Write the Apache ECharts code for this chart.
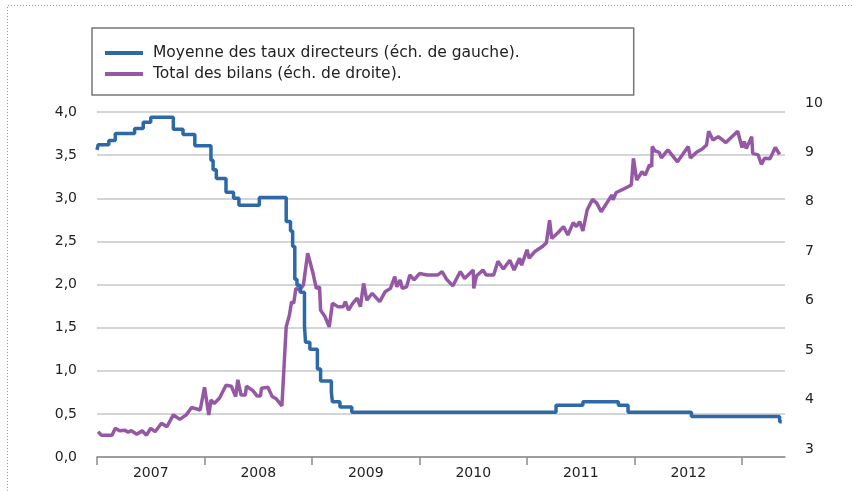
<!DOCTYPE html>
<html>
<head>
<meta charset="utf-8">
<script src="https://cdn.jsdelivr.net/npm/echarts@6/dist/echarts.min.js"></script>
<style>
  html, body { margin: 0; padding: 0; background: #fff; }
  #chart { width: 852px; height: 491px; }
</style>
</head>
<body>
<div id="chart"></div>
<script>
// années (axe des abscisses)
const yearLabels = [2007, 2008, 2009, 2010, 2011, 2012]
const yearTicks = [2007, 2008, 2009, 2010, 2011, 2012, 2013]

// Moyenne des taux directeurs (éch. de gauche) - escalier
const rateDates = [2007.00, 2007.01, 2007.11, 2007.17, 2007.35, 2007.43, 2007.50, 2007.71, 2007.80, 2007.91,
  2008.06, 2008.08, 2008.11, 2008.20, 2008.27, 2008.32, 2008.51, 2008.76, 2008.80, 2008.82,
  2008.84, 2008.86, 2008.89, 2008.93, 2008.94, 2008.98, 2009.05, 2009.08, 2009.18, 2009.19,
  2009.26, 2009.37, 2011.27, 2011.52, 2011.85, 2011.94, 2012.53, 2013.35, 2013.37]
const rateValues = [3.56, 3.62, 3.67, 3.75, 3.81, 3.88, 3.94, 3.80, 3.74, 3.61,
  3.44, 3.33, 3.23, 3.07, 3.00, 2.92, 3.01, 2.73, 2.62, 2.44,
  2.06, 1.99, 1.91, 1.52, 1.33, 1.25, 1.02, 0.88, 0.75, 0.64,
  0.58, 0.52, 0.60, 0.64, 0.60, 0.52, 0.47, 0.41, 0.41]

// Total des bilans (éch. de droite)
const bilanDates = [2007.01, 2007.04, 2007.14, 2007.17, 2007.21, 2007.26, 2007.29, 2007.32, 2007.37, 2007.42,
  2007.46, 2007.50, 2007.54, 2007.60, 2007.65, 2007.71, 2007.77, 2007.83, 2007.88, 2007.96,
  2008.00, 2008.04, 2008.06, 2008.09, 2008.14, 2008.20, 2008.25, 2008.29, 2008.31, 2008.34,
  2008.38, 2008.39, 2008.45, 2008.49, 2008.52, 2008.53, 2008.59, 2008.63, 2008.67, 2008.72,
  2008.76, 2008.79, 2008.81, 2008.83, 2008.85, 2008.89, 2008.92, 2008.96, 2009.01, 2009.04,
  2009.07, 2009.08, 2009.12, 2009.16, 2009.19, 2009.24, 2009.29, 2009.31, 2009.34, 2009.38,
  2009.42, 2009.45, 2009.48, 2009.51, 2009.56, 2009.63, 2009.68, 2009.73, 2009.77, 2009.79,
  2009.82, 2009.84, 2009.88, 2009.91, 2009.95, 2010.00, 2010.07, 2010.17, 2010.21, 2010.25,
  2010.31, 2010.38, 2010.42, 2010.50, 2010.505, 2010.53, 2010.59, 2010.62, 2010.69, 2010.73,
  2010.78, 2010.84, 2010.88, 2010.93, 2010.95, 2011.00, 2011.02, 2011.07, 2011.14, 2011.18,
  2011.21, 2011.23, 2011.29, 2011.34, 2011.38, 2011.43, 2011.46, 2011.49, 2011.52, 2011.56,
  2011.61, 2011.65, 2011.69, 2011.74, 2011.79, 2011.80, 2011.83, 2011.90, 2011.97, 2011.99,
  2012.02, 2012.07, 2012.10, 2012.14, 2012.16, 2012.165, 2012.19, 2012.23, 2012.25, 2012.31,
  2012.40, 2012.50, 2012.52, 2012.58, 2012.63, 2012.67, 2012.69, 2012.73, 2012.78, 2012.85,
  2012.96, 2013.00, 2013.02, 2013.04, 2013.09, 2013.10, 2013.15, 2013.18, 2013.21, 2013.26,
  2013.31, 2013.35]
const bilanValues = [3.35, 3.28, 3.28, 3.42, 3.37, 3.38, 3.34, 3.37, 3.30, 3.37,
  3.28, 3.42, 3.35, 3.52, 3.45, 3.69, 3.60, 3.69, 3.84, 3.79,
  4.25, 3.69, 3.99, 3.92, 4.03, 4.29, 4.27, 4.06, 4.40, 4.09,
  4.09, 4.27, 4.18, 4.07, 4.07, 4.23, 4.25, 4.06, 4.01, 3.87,
  5.47, 5.71, 5.98, 5.95, 6.25, 6.22, 6.32, 6.96, 6.55, 6.25,
  6.28, 5.81, 5.68, 5.47, 5.95, 5.88, 5.88, 5.98, 5.81, 5.95,
  6.05, 5.88, 6.35, 6.01, 6.15, 5.98, 6.18, 6.25, 6.49, 6.28,
  6.42, 6.25, 6.28, 6.52, 6.42, 6.55, 6.52, 6.52, 6.59, 6.44,
  6.30, 6.59, 6.45, 6.62, 6.25, 6.50, 6.62, 6.52, 6.52, 6.80,
  6.64, 6.82, 6.62, 6.86, 6.72, 7.03, 6.86, 6.99, 7.09, 7.17,
  7.63, 7.26, 7.38, 7.50, 7.33, 7.58, 7.50, 7.60, 7.41, 7.84,
  8.05, 7.97, 7.80, 7.97, 8.14, 8.04, 8.19, 8.26, 8.34, 8.88,
  8.44, 8.61, 8.54, 8.75, 8.71, 9.12, 9.03, 9.00, 8.89, 9.05,
  8.81, 9.12, 8.89, 9.01, 9.07, 9.15, 9.43, 9.25, 9.32, 9.20,
  9.43, 9.10, 9.22, 9.08, 9.32, 8.98, 8.95, 8.76, 8.88, 8.87,
  9.10, 8.96]

const blue = '#2d69a6'
const purple = '#9558a5'
const textColor = '#222'
const font = "'DejaVu Sans', 'Liberation Sans', sans-serif"

const chart = echarts.init(document.getElementById('chart'))

const option = {
  backgroundColor: '#fff',
  animation: false,
  textStyle: { fontFamily: font, color: textColor },
  // cadre pointillé
  graphic: [{
    type: 'polyline',
    shape: { points: [[7.5, 491], [7.5, 5.5], [852, 5.5]] },
    style: { stroke: '#9a9a9a', lineWidth: 1, lineDash: [1, 2], fill: null }
  }],
  legend: {
    left: 92,
    top: 28,
    orient: 'vertical',
    padding: [17, 114, 13, 13],
    itemGap: 5,
    itemWidth: 38,
    itemHeight: 4,
    icon: 'rect',
    borderColor: '#777',
    borderWidth: 1.5,
    textStyle: { fontSize: 15.5, color: textColor, fontFamily: font, padding: [0, 0, 0, 5] },
    data: ['Moyenne des taux directeurs (éch. de gauche).', 'Total des bilans (éch. de droite).']
  },
  grid: [
    { left: 97, right: 67, top: 112, bottom: 34 },
    { left: 97, right: 67, top: 103, bottom: 42 }
  ],
  xAxis: [
    {
      gridIndex: 0,
      type: 'value',
      min: 2007,
      max: 2013.4,
      axisLine: { show: true, lineStyle: { color: '#8c8c8c', width: 1.5 } },
      axisTick: { show: true, length: 8, customValues: yearTicks, lineStyle: { color: '#8c8c8c', width: 1.5 } },
      axisLabel: {
        customValues: yearLabels.map(y => y + 0.5),
        formatter: v => String(Math.floor(v)),
        fontSize: 14,
        color: textColor,
        margin: 9
      },
      splitLine: { show: false }
    },
    { gridIndex: 1, type: 'value', min: 2007, max: 2013.4, show: false }
  ],
  yAxis: [
    {
      gridIndex: 0,
      type: 'value',
      min: 0,
      max: 4,
      interval: 0.5,
      axisLine: { show: false },
      axisTick: { show: false },
      axisLabel: {
        formatter: v => v.toFixed(1).replace('.', ','),
        fontSize: 14,
        color: textColor,
        margin: 20
      },
      splitLine: { lineStyle: { color: '#c3c8cd', width: 1.5 } }
    },
    {
      gridIndex: 1,
      type: 'value',
      position: 'right',
      min: 3,
      max: 10,
      interval: 1,
      axisLine: { show: false },
      axisTick: { show: false },
      axisLabel: { fontSize: 14, color: textColor, margin: 20 },
      splitLine: { show: false }
    }
  ],
  series: [
    {
      name: 'Total des bilans (éch. de droite).',
      type: 'line',
      xAxisIndex: 1,
      yAxisIndex: 1,
      symbol: 'none',
      color: purple,
      lineStyle: { color: purple, width: 3.5 },
      data: bilanDates.map((d, i) => [d, bilanValues[i]]),
      z: 2
    },
    {
      name: 'Moyenne des taux directeurs (éch. de gauche).',
      type: 'line',
      xAxisIndex: 0,
      yAxisIndex: 0,
      step: 'end',
      symbol: 'none',
      color: blue,
      lineStyle: { color: blue, width: 3.5 },
      data: rateDates.map((d, i) => [d, rateValues[i]]),
      z: 3
    }
  ]
}

chart.setOption(option)
</script>
</body>
</html>
